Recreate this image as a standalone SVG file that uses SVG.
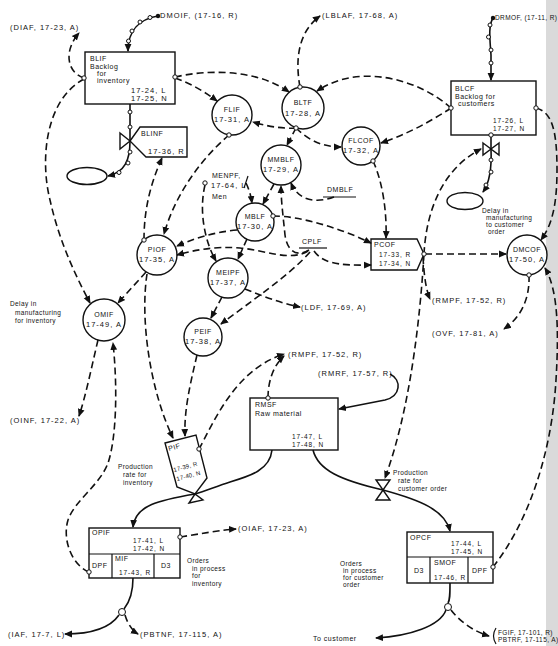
<svg xmlns="http://www.w3.org/2000/svg" width="558" height="646" viewBox="0 0 558 646">
<defs>
<marker id="ah" markerWidth="8" markerHeight="8" refX="7" refY="4" orient="auto" markerUnits="userSpaceOnUse">
<path d="M0,0.6 L8,4 L0,7.4 Z" fill="#111"/>
</marker>
<style>
.box{fill:#fff;stroke:#111;stroke-width:1.4}
.div{fill:none;stroke:#111;stroke-width:1.2}
.info{fill:none;stroke:#111;stroke-width:1.6;stroke-dasharray:7 4}
.flow{fill:none;stroke:#111;stroke-width:1.6}
.po{fill:#fff;stroke:#111;stroke-width:1}
.dot{fill:#111}
text{font-family:"Liberation Sans",Arial,sans-serif;fill:#111}
.n{font-size:7.5px;letter-spacing:1px}
.m{font-size:6.5px;letter-spacing:0.9px}
.w{font-size:7px;letter-spacing:0.5px}
.s{font-size:6.5px;letter-spacing:0.4px}
.p{font-size:6px;letter-spacing:0.2px}
.c{text-anchor:middle}
</style>
</defs>
<rect x="0" y="0" width="558" height="646" fill="#fff"/>
<rect x="546" y="0" width="12" height="646" fill="#dadada"/>

<!-- Nodes -->
<g id="BLIF">
<rect class="box" x="85" y="52" width="90" height="52"/>
<text class="w" x="90" y="61">BLIF</text>
<text class="w" x="90" y="69">Backlog</text>
<text class="w" x="97" y="76">for</text>
<text class="w" x="97" y="83">inventory</text>
<text class="n" x="131" y="93">17-24, L</text>
<text class="n" x="131" y="101">17-25, N</text>
</g>
<g id="BLINF">
<polygon class="box" points="120,133 130,141 120,149"/>
<polygon class="box" points="130,141 140,127 187,127 187,157 146,157"/>
<text class="w" x="141" y="136">BLINF</text>
<text class="n" x="148" y="154">17-36, R</text>
</g>
<g id="cloud-inv"><ellipse class="box" cx="87" cy="176" rx="20" ry="8.5"/></g>
<g id="BLTF"><circle class="box" cx="303" cy="108" r="21"/>
<text class="w c" x="303" y="105">BLTF</text><text class="n c" x="303" y="116">17-28, A</text></g>
<g id="FLIF"><circle class="box" cx="232" cy="115" r="20"/>
<text class="w c" x="232" y="112">FLIF</text><text class="n c" x="232" y="122">17-31, A</text></g>
<g id="FLCOF"><circle class="box" cx="361" cy="146" r="19"/>
<text class="w c" x="361" y="143">FLCOF</text><text class="n c" x="361" y="153">17-32, A</text></g>
<g id="MMBLF"><circle class="box" cx="281" cy="165" r="20"/>
<text class="w c" x="281" y="162">MMBLF</text><text class="n c" x="281" y="172">17-29, A</text></g>
<g id="MBLF"><circle class="box" cx="255" cy="222" r="19"/>
<text class="w c" x="255" y="219">MBLF</text><text class="n c" x="255" y="229">17-30, A</text></g>
<g id="MEIPF"><circle class="box" cx="228" cy="278" r="20"/>
<text class="w c" x="228" y="275">MEIPF</text><text class="n c" x="228" y="285">17-37, A</text></g>
<g id="PEIF"><circle class="box" cx="203" cy="337" r="19"/>
<text class="w c" x="203" y="334">PEIF</text><text class="n c" x="203" y="344">17-38, A</text></g>
<g id="PIOF"><circle class="box" cx="157" cy="255" r="20"/>
<text class="w c" x="157" y="252">PIOF</text><text class="n c" x="157" y="262">17-35, A</text></g>
<g id="OMIF"><circle class="box" cx="104" cy="320" r="21"/>
<text class="w c" x="104" y="317">OMIF</text><text class="n c" x="104" y="327">17-49, A</text></g>
<g id="DMCOF"><circle class="box" cx="527" cy="255" r="20"/>
<text class="w c" x="527" y="252">DMCOF</text><text class="n c" x="527" y="262">17-50, A</text></g>
<g id="BLCF">
<rect class="box" x="451" y="81" width="85" height="54"/>
<text class="w" x="455" y="91">BLCF</text>
<text class="w" x="455" y="99">Backlog for</text>
<text class="w" x="458" y="106">customers</text>
<text class="m" x="493" y="123">17-26, L</text>
<text class="m" x="493" y="131">17-27, N</text>
</g>
<g id="BLCF-valve">
<polygon class="box" points="483,143 491,149 483,155"/>
<polygon class="box" points="499,143 491,149 499,155"/>
</g>
<g id="cloud-cust"><ellipse class="box" cx="465" cy="201" rx="18" ry="8.5"/></g>
<g id="MENPF">
<text class="w" x="212" y="178">MENPF,</text>
<text class="n" x="211" y="188">17-64, L</text>
<text class="w" x="212" y="199">Men</text>
<path class="div" d="M244,188 L248,176"/>
</g>
<g id="DMBLF">
<text class="w" x="327" y="192">DMBLF</text>
<path class="div" d="M323,197 L356,197"/>
</g>
<g id="CPLF">
<text class="w" x="302" y="244">CPLF</text>
<path class="div" d="M299,248 L327,248"/>
</g>
<g id="PCOF">
<polygon class="box" points="371,239 417,239 424,254 417,270 371,270"/>
<text class="w" x="374" y="247">PCOF</text>
<text class="m" x="379" y="257">17-33, R</text>
<text class="m" x="379" y="266">17-34, N</text>
</g>
<g id="RMSF">
<rect class="box" x="250" y="398" width="88" height="52"/>
<text class="w" x="255" y="407">RMSF</text>
<text class="w" x="255" y="416">Raw material</text>
<text class="m" x="292" y="439">17-47, L</text>
<text class="m" x="292" y="447">17-48, N</text>
</g>
<g id="PIF">
<polygon class="box" points="189,503 203,500 195,494"/>
<polygon class="box" points="165,443 196,435 207,478 195,494 177,487"/>
<text class="w" x="169" y="451" transform="rotate(-15 169 451)">PIF</text>
<text class="p" x="174" y="472" transform="rotate(-15 174 472)">17-39, R</text>
<text class="p" x="177" y="481" transform="rotate(-15 177 481)">17-40, N</text>
</g>
<g id="PRC-valve">
<polygon class="box" points="376,480 390,480 383,490"/>
<polygon class="box" points="376,500 390,500 383,490"/>
</g>
<g id="OPIF">
<rect class="box" x="89" y="528" width="91" height="50"/>
<path class="div" d="M89,554 L180,554 M112,554 L112,578 M154,554 L154,578"/>
<text class="w" x="92" y="535">OPIF</text>
<text class="m" x="133" y="543">17-41, L</text>
<text class="m" x="133" y="551">17-42, N</text>
<text class="w" x="92" y="568">DPF</text>
<text class="w" x="115" y="561">MIF</text>
<text class="m" x="119" y="575">17-43, R</text>
<text class="w" x="161" y="568">D3</text>
</g>
<g id="OPCF">
<rect class="box" x="407" y="532" width="86" height="51"/>
<path class="div" d="M407,557 L493,557 M430,557 L430,583 M468,557 L468,583"/>
<text class="w" x="410" y="540">OPCF</text>
<text class="m" x="451" y="546">17-44, L</text>
<text class="m" x="451" y="554">17-45, N</text>
<text class="w" x="434" y="565">SMOF</text>
<text class="w" x="414" y="573">D3</text>
<text class="w" x="472" y="573">DPF</text>
<text class="m" x="434" y="580">17-46, R</text>
</g>

<!-- Connectors -->
<g id="connectors">
<g id="info-links">
<path class="info" marker-end="url(#ah)" d="M84,78 C66,72 64,50 79,33"/>
<path class="info" marker-end="url(#ah)" d="M84,79 C45,100 40,160 50,200 C60,245 78,280 90,303"/>
<path class="info" marker-end="url(#ah)" d="M175,78 C192,84 205,92 217,101"/>
<path class="info" marker-end="url(#ah)" d="M175,77 C205,70 255,68 289,92"/>
<path class="info" marker-end="url(#ah)" d="M300,87 C295,60 298,32 320,16"/>
<path class="info" marker-end="url(#ah)" d="M296,128 C282,129 266,126 253,122"/>
<path class="info" marker-end="url(#ah)" d="M296,128 L287,145"/>
<path class="info" marker-end="url(#ah)" d="M296,128 C310,142 325,147 341,147"/>
<path class="info" marker-end="url(#ah)" d="M451,108 C420,80 360,62 317,91"/>
<path class="info" marker-end="url(#ah)" d="M451,108 C430,122 405,135 381,143"/>
<path class="info" marker-end="url(#ah)" d="M373,161 C382,180 387,210 386,238"/>
<path class="info" marker-end="url(#ah)" d="M229,135 C200,160 175,195 164,234"/>
<path class="info" marker-end="url(#ah)" d="M144,240 C144,210 150,185 162,158"/>
<path class="info" marker-end="url(#ah)" d="M205,185 C199,210 204,240 216,261"/>
<path class="info" marker-end="url(#ah)" d="M246,183 C249,189 251,196 252,203"/>
<path class="info" marker-end="url(#ah)" d="M274,184 L263,204"/>
<path class="info" marker-end="url(#ah)" d="M309,250 C296,258 287,250 285,235 C283,215 281,200 281,186"/>
<path class="info" marker-end="url(#ah)" d="M334,197 C315,204 298,200 291,183"/>
<path class="info" marker-end="url(#ah)" d="M247,239 L238,259"/>
<path class="info" marker-end="url(#ah)" d="M273,216 C300,216 340,228 371,243"/>
<path class="info" marker-end="url(#ah)" d="M237,230 C215,232 195,238 177,246"/>
<path class="info" marker-end="url(#ah)" d="M308,251 C290,262 265,250 240,248 C215,246 195,250 177,255"/>
<path class="info" marker-end="url(#ah)" d="M310,252 C290,275 250,302 221,324"/>
<path class="info" marker-end="url(#ah)" d="M314,251 C322,262 335,266 371,265"/>
<path class="info" marker-end="url(#ah)" d="M222,297 L211,318"/>
<path class="info" marker-end="url(#ah)" d="M245,289 C262,296 280,303 300,307"/>
<path class="info" marker-end="url(#ah)" d="M146,272 L118,303"/>
<path class="info" marker-end="url(#ah)" d="M147,274 C140,320 150,390 173,438"/>
<path class="info" marker-end="url(#ah)" d="M197,355 C190,385 184,410 185,436"/>
<path class="info" marker-end="url(#ah)" d="M98,340 C92,365 86,395 79,416"/>
<path class="info" marker-end="url(#ah)" d="M89,572 C72,565 62,540 68,520 C75,500 100,485 108,463 C116,440 118,390 113,343"/>
<path class="info" marker-end="url(#ah)" d="M180,537 C200,534 220,530 236,529"/>
<path class="info" marker-end="url(#ah)" d="M199,449 C215,420 235,370 284,354"/>
<path class="info" marker-end="url(#ah)" d="M268,398 C268,380 274,365 284,356"/>
<path class="info" marker-end="url(#ah)" d="M423,257 C424,275 426,290 430,299"/>
<path class="info" marker-end="url(#ah)" d="M424,254 C426,215 440,170 481,149"/>
<path class="info" marker-end="url(#ah)" d="M424,254 C420,320 410,410 385,478"/>
<path class="info" marker-end="url(#ah)" d="M425,254 L506,254"/>
<path class="info" marker-end="url(#ah)" d="M536,108 C552,112 557,130 557,170 C557,205 552,225 541,240"/>
<path class="info" marker-end="url(#ah)" d="M529,275 C530,300 520,318 504,329"/>
<path class="info" marker-end="url(#ah)" d="M493,567 C530,520 552,450 556,380 C559,330 558,290 545,268"/>
<path class="info" marker-end="url(#ah)" d="M125,615 C128,625 133,631 138,634"/>
<path class="info" marker-end="url(#ah)" d="M451,610 C460,622 475,632 489,636"/>
</g>
<g id="flows">
<path class="flow" marker-end="url(#ah)" d="M158,16 C140,19 128,30 128,51"/>
<path class="flow" d="M130,104 L130,141"/>
<path class="flow" marker-end="url(#ah)" d="M130,141 C130,160 125,172 108,176"/>
<path class="flow" marker-end="url(#ah)" d="M493,18 C488,26 490,40 491,55 L491,80"/>
<path class="flow" marker-end="url(#ah)" d="M491,135 L491,149 C492,172 488,185 483,192"/>
<path class="flow" marker-end="url(#ah)" d="M390,374 C402,380 401,396 385,400 L339,409"/>
<path class="flow" marker-end="url(#ah)" d="M272,450 C270,470 250,476 230,482 C215,487 205,491 195,494 C160,500 135,505 133,527"/>
<path class="flow" marker-end="url(#ah)" d="M313,450 C318,470 340,480 383,490 C420,500 445,510 450,531"/>
<path class="flow" d="M133,578 C133,595 128,604 124,609"/>
<path class="flow" marker-end="url(#ah)" d="M119,615 C110,628 90,634 65,634"/>
<path class="flow" d="M450,583 C450,595 450,600 448,603"/>
<path class="flow" marker-end="url(#ah)" d="M446,610 C440,626 410,636 376,638"/>
<circle class="dot" cx="158" cy="16" r="2.2"/>
<circle class="dot" cx="493" cy="18" r="2.2"/>
<circle class="po" cx="150" cy="17.5" r="2"/>
<circle class="po" cx="140" cy="22" r="2"/>
<circle class="po" cx="132" cy="31" r="2"/>
<circle class="po" cx="128.5" cy="41" r="2"/>
<circle class="po" cx="130" cy="112" r="2"/>
<circle class="po" cx="130" cy="127" r="2"/>
<circle class="po" cx="130" cy="152" r="2"/>
<circle class="po" cx="128" cy="163" r="2"/>
<circle class="po" cx="119" cy="172.5" r="2"/>
<circle class="po" cx="490" cy="25" r="2"/>
<circle class="po" cx="488.5" cy="37" r="2"/>
<circle class="po" cx="491" cy="50" r="2"/>
<circle class="po" cx="491" cy="63" r="2"/>
<circle class="po" cx="491" cy="160" r="2"/>
<circle class="po" cx="491" cy="172" r="2"/>
<circle class="po" cx="486" cy="185" r="2"/>
<circle class="po" cx="122" cy="612" r="3.5"/>
<circle class="po" cx="448" cy="607" r="3.5"/>
</g>
<g id="pickoffs">
<circle class="po" cx="84" cy="78" r="2.2"/>
<circle class="po" cx="175" cy="77" r="2.2"/>
<circle class="po" cx="300" cy="87" r="2.2"/>
<circle class="po" cx="296" cy="128" r="2.2"/>
<circle class="po" cx="451" cy="108" r="2.2"/>
<circle class="po" cx="536" cy="108" r="2.2"/>
<circle class="po" cx="491" cy="135" r="2.2"/>
<circle class="po" cx="373" cy="161" r="2.2"/>
<circle class="po" cx="229" cy="135" r="2.2"/>
<circle class="po" cx="144" cy="240" r="2.2"/>
<circle class="po" cx="205" cy="183" r="2.2"/>
<circle class="po" cx="273" cy="216" r="2.2"/>
<circle class="po" cx="424" cy="254" r="2.2"/>
<circle class="po" cx="529" cy="275" r="2.2"/>
<circle class="po" cx="180" cy="537" r="2.2"/>
<circle class="po" cx="89" cy="572" r="2.2"/>
<circle class="po" cx="493" cy="567" r="2.2"/>
<circle class="po" cx="199" cy="449" r="2.2"/>
<circle class="po" cx="268" cy="398" r="2.2"/>
</g>
</g>

<!-- Labels -->
<g id="labels">
<text class="n" x="10" y="30">(DIAF, 17-23, A)</text>
<text class="n" x="160" y="18">DMOIF, (17-16, R)</text>
<text class="n" x="322" y="18">(LBLAF, 17-68, A)</text>
<text class="s" x="495" y="20">DRMOF, (17-11, R)</text>
<text class="s" x="10" y="306">Delay in</text>
<text class="s" x="15" y="315">manufacturing</text>
<text class="s" x="15" y="323">for inventory</text>
<text class="s" x="482" y="213">Delay in</text>
<text class="s" x="486" y="220">manufacturing</text>
<text class="s" x="486" y="227">to customer</text>
<text class="s" x="488" y="234">order</text>
<text class="n" x="301" y="310">(LDF, 17-69, A)</text>
<text class="n" x="288" y="357">(RMPF, 17-52, R)</text>
<text class="n" x="318" y="376">(RMRF, 17-57, R)</text>
<text class="n" x="432" y="303">(RMPF, 17-52, R)</text>
<text class="n" x="432" y="336">(OVF, 17-81, A)</text>
<text class="n" x="10" y="423">(OINF, 17-22, A)</text>
<text class="s" x="118" y="469">Production</text>
<text class="s" x="123" y="477">rate for</text>
<text class="s" x="123" y="485">inventory</text>
<text class="s" x="393" y="475">Production</text>
<text class="s" x="398" y="483">rate for</text>
<text class="s" x="398" y="491">customer order</text>
<text class="n" x="238" y="531">(OIAF, 17-23, A)</text>
<text class="s" x="187" y="563">Orders</text>
<text class="s" x="192" y="571">in process</text>
<text class="s" x="192" y="578">for</text>
<text class="s" x="192" y="586">inventory</text>
<text class="s" x="340" y="566">Orders</text>
<text class="s" x="343" y="573">in process</text>
<text class="s" x="343" y="580">for customer</text>
<text class="s" x="343" y="587">order</text>
<text class="n" x="8" y="637">(IAF, 17-7, L)</text>
<text class="n" x="140" y="637">(PBTNF, 17-115, A)</text>
<text class="w" x="313" y="641">To customer</text>
<path class="div" d="M496,628 Q491,636 496,644"/>
<text class="s" x="498" y="635">FGIF, 17-101, R)</text>
<text class="s" x="498" y="642">PBTRF, 17-115, A)</text>
</g>
</svg>
